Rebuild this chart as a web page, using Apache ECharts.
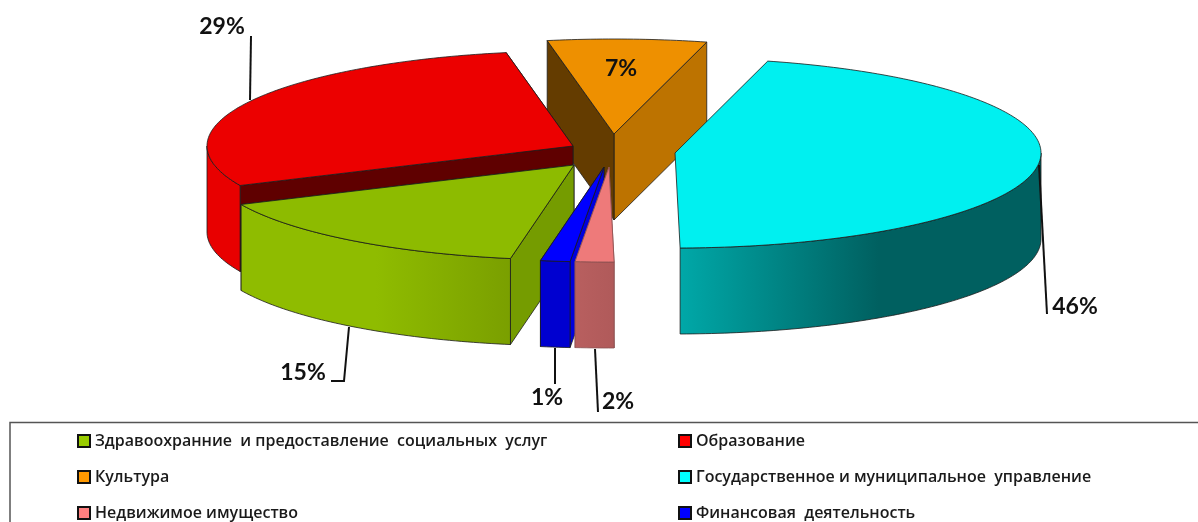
<!DOCTYPE html>
<html><head><meta charset="utf-8">
<script src="https://cdn.jsdelivr.net/npm/echarts@6/dist/echarts.min.js"></script>
<style>html,body{margin:0;padding:0;background:#fff;overflow:hidden}#c{width:1198px;height:522px}</style>
</head><body><div id="c"></div>
<script>
// ---- data ----
const categories = [
  'Здравоохранние  и предоставление  социальных  услуг',
  'Образование',
  'Культура',
  'Государственное и муниципальное  управление',
  'Недвижимое имущество',
  'Финансовая  деятельность'
];
const shares = [15.4, 28.9, 7.0, 45.7, 1.7, 1.3];
const legendColors = ['#99cc00', '#ff0000', '#ff9900', '#00ffff', '#ff8080', '#0000ff'];

// ---- look of the 3D pie ----
const startAngle = 190, RX = 366, RY = 95, DEPTH = 86;
const looks = [
  { ox: 574, oy: 165, top: '#8dbb00', wall: [[0, '#8fbc00'], [0.5, '#8fbc00'], [1, '#7a9f00']], startFace: '#759c00', endFace: '#759c00',
    leader: [[349,327],[344,381],[331,381]], label: [303,373] },
  { ox: 573, oy: 146, top: '#ec0000', wall: [[0, '#e80000'], [1, '#e80000']], startFace: '#5f0000', endFace: '#5f0000',
    leader: [[250,100],[251,36]], label: [222,27] },
  { ox: 614, oy: 134, top: '#ee9000', wall: [[0, '#bd7300'], [1, '#bd7300']], startFace: '#bd7300', endFace: '#643c00',
    leader: null, label: [621,69] },
  { ox: 675, oy: 153, top: '#00f0f0', wall: [[0, '#00a8a8'], [0.55, '#006060'], [1, '#006060']], startFace: null, endFace: null,
    leader: [[1039,165],[1047,314]], label: [1075,307] },
  { ox: 609, oy: 167, top: '#ee7a7a', wall: [[0, '#b85f5f'], [1, '#b05a5a']], startFace: '#b85f5f', endFace: '#b85f5f', edge: '#8a5050',
    leader: [[595,349],[598,412]], label: [618,402] },
  { ox: 604, oy: 167, top: '#0000ff', wall: [[0, '#0000d0'], [1, '#0000d0']], startFace: '#0000dd', endFace: '#0000dd',
    leader: [[555,348],[555,384]], label: [547,398] }
];
const drawOrder = [2, 1, 0, 3, 5, 4];

const total = shares.reduce((a, b) => a + b, 0);
function angleRange(i) {
  let s = startAngle;
  for (let k = 0; k < i; k++) s += shares[k] / total * 360;
  return [s, s + shares[i] / total * 360];
}
function rim(l, deg, dy) {
  const r = deg * Math.PI / 180;
  return [l.ox + RX * Math.sin(r), l.oy - RY * Math.cos(r) + (dy || 0)];
}
function arc(l, a, b, dy) {
  const pts = [], n = Math.max(2, Math.ceil(Math.abs(b - a)));
  for (let i = 0; i <= n; i++) pts.push(rim(l, a + (b - a) * i / n, dy));
  return pts;
}
function renderSlice(i) {
  const l = looks[i], [a, b] = angleRange(i), kids = [];
  const apex = [l.ox, l.oy], apexD = [l.ox, l.oy + DEPTH];
  const poly = (points, fill) => ({ type: 'polygon', shape: { points },
    style: { fill, stroke: l.edge || '#1c1c1c', lineWidth: 0.8 } });
  const face = (deg, fill) => poly([apex, rim(l, deg), rim(l, deg, DEPTH), apexD], fill);
  if (l.startFace) kids.push(face(b, l.startFace));
  if (l.endFace) kids.push(face(a, l.endFace));
  [[90, 270], [450, 630]].forEach(([lo, hi]) => {
    const s = Math.max(a, lo), e = Math.min(b, hi);
    if (e > s) {
      kids.push(poly(arc(l, s, e).concat(arc(l, e, s, DEPTH)),
        new echarts.graphic.LinearGradient(0, 0, 1, 0, l.wall.map(([offset, color]) => ({ offset, color })))));
    }
  });
  kids.push(poly([apex].concat(arc(l, a, b)), l.top));
  if (l.leader) kids.push({ type: 'polyline', shape: { points: l.leader },
    style: { stroke: '#111', lineWidth: 2, fill: null } });
  kids.push({ type: 'text', style: { text: Math.round(shares[i]) + '%', x: l.label[0], y: l.label[1],
    fill: '#111', align: 'center', verticalAlign: 'middle', textAlign: 'center', textVerticalAlign: 'middle',
    font: '700 23px Lato, "Open Sans", sans-serif' } });
  return { type: 'group', children: kids };
}

const legendText = { color: '#1a1a1a', fontFamily: '"Open Sans", sans-serif', fontSize: 16, fontWeight: 600, height: 16, lineHeight: 16 };
const legendItem = i => ({ name: categories[i], icon: 'rect',
  itemStyle: { color: legendColors[i], borderColor: '#111', borderWidth: 2 } });
function legend(left, ids) {
  return { orient: 'vertical', left, top: 433, itemWidth: 12, itemHeight: 12, itemGap: 20, padding: 0,
    selectedMode: false, textStyle: legendText, data: ids.map(legendItem) };
}

const chart = echarts.init(document.getElementById('c'), null, { renderer: 'canvas' });
chart.setOption({
  animation: false,
  backgroundColor: '#fff',
  legend: [legend(77, [0, 2, 4]), legend(678, [1, 3, 5])],
  graphic: [{ type: 'rect', z: 0, silent: true, shape: { x: 10, y: 422.5, width: 1400, height: 300 },
    style: { fill: null, stroke: '#555', lineWidth: 1.5 } }],
  series: drawOrder.map(i => ({
    type: 'custom', name: categories[i], coordinateSystem: 'none', silent: true,
    itemStyle: { color: legendColors[i] },
    data: [[shares[i]]],
    renderItem: () => renderSlice(i)
  }))
});
</script></body></html>
